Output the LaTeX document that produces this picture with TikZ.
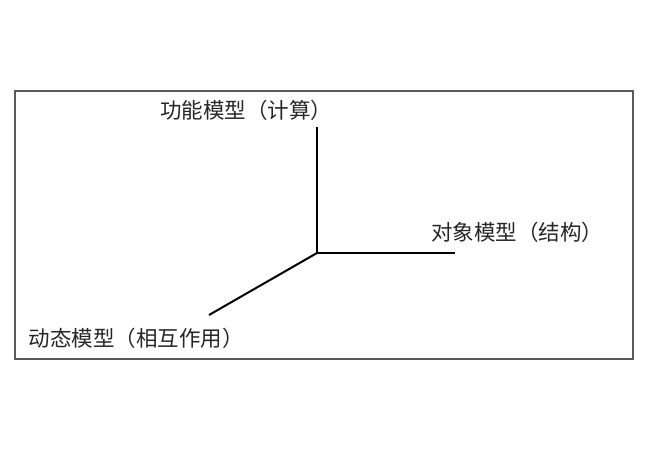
\documentclass[tikz,border=0pt]{standalone}
\usepackage{fontspec}
\newfontfamily\cjk{Noto Sans CJK SC}
\usepackage{tikz}
\definecolor{framegray}{RGB}{90,90,90}
\tikzset{
    axisline/.style={line width=2pt,black},
    modellabel/.style={font=\cjk\fontsize{21.5}{24}\selectfont,text=black!85,inner sep=0pt}
}

\begin{document}
\begin{tikzpicture}[x=1pt,y=-1pt]
    \useasboundingbox (0,0) rectangle (648,474);
    % Frame
    \draw[framegray,line width=1.2pt] (15,91) rectangle (633,359);

    % Axes
    \coordinate (origin) at (317,253);
    \coordinate (funcend) at (317,127);
    \coordinate (objend) at (455,253);
    \coordinate (dynend) at (209,315);
    \draw[axisline] (funcend) -- (origin) -- (objend);
    \draw[axisline] (origin) -- (dynend);

    % Labels
    \node[modellabel] (func) at (246,110) {功能模型（计算）};
    \node[modellabel] (obj) at (517,232) {对象模型（结构）};
    \node[modellabel] (dyn) at (136,338) {动态模型（相互作用）};
\end{tikzpicture}
\end{document}
